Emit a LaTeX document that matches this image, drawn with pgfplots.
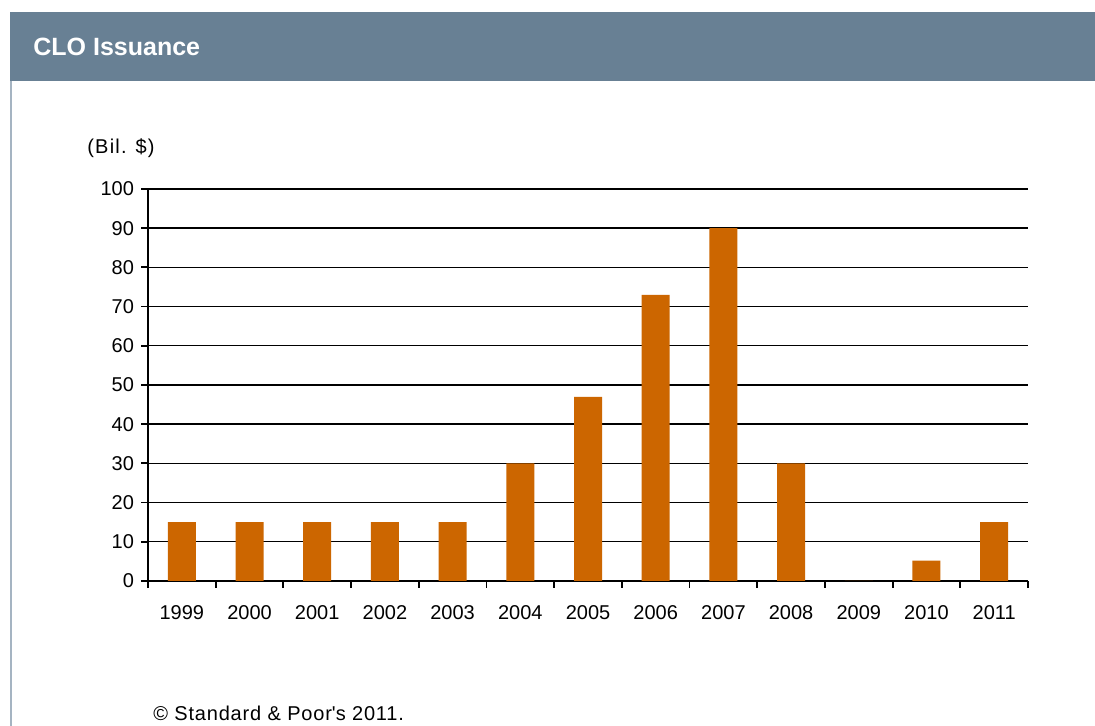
\documentclass[border=0pt]{standalone}
\usepackage{pgfplots}
\pgfplotsset{compat=1.18}
\usepackage{fontspec}
\setmainfont{Liberation Sans}
\definecolor{hdr}{RGB}{104,128,148}
\definecolor{barc}{RGB}{204,102,0}
\definecolor{edge}{RGB}{165,180,194}
\begin{document}
\begin{tikzpicture}
\useasboundingbox (0,0) rectangle (547.5pt,363pt);
\fill[white] (0,0) rectangle (547.5pt,363pt);
\fill[hdr] (5pt,322.5pt) rectangle (547.5pt,357pt);
\draw[edge, line width=1pt] (5.5pt,0) -- (5.5pt,322.5pt);
\node[anchor=west, text=white, font=\bfseries\fontsize{12.5}{14}\selectfont, inner sep=0] at (16.5pt,339.5pt) {CLO Issuance};
\node[anchor=west, inner sep=0, font=\fontsize{10}{12}\selectfont\addfontfeature{LetterSpace=6}] at (43.5pt,289pt) {(Bil. \$)};
\node[anchor=base west, inner sep=0, font=\fontsize{10}{12}\selectfont\addfontfeature{LetterSpace=4}] at (76.5pt,2.5pt) {© Standard \& Poor\textquotesingle s 2011.};
\begin{axis}[at={(74pt,72.5pt)}, anchor=south west, scale only axis,
  width=440pt, height=196pt,
  xmin=-0.5, xmax=12.5, ymin=0, ymax=100,
  ytick={0,10,...,100},
  xtick={0,...,12},
  xticklabels={1999,2000,2001,2002,2003,2004,2005,2006,2007,2008,2009,2010,2011},
  minor xtick={-0.5,0.5,...,12.5},
  axis x line*=bottom, axis y line*=left,
  axis line style={-, line width=0.9pt},
  tick align=outside, major tick length=3.5pt, minor tick length=3.5pt,
  major x tick style={draw=none},
  every tick/.style={black, line width=0.9pt},
  minor x tick style={black, line width=0.9pt},
  ymajorgrids, major grid style={black, line width=0.7pt},
  ybar, bar width=14pt,
  tick label style={font=\fontsize{10}{12}\selectfont},
  xticklabel style={yshift=-5pt},
  /pgf/number format/assume math mode=true,
]
\addplot[fill=barc, draw=none] coordinates {
(0,15) (1,15) (2,15) (3,15) (4,15) (5,30) (6,47) (7,73) (8,90) (9,30) (10,0) (11,5.2) (12,15)
};
\end{axis}
\end{tikzpicture}
\end{document}
